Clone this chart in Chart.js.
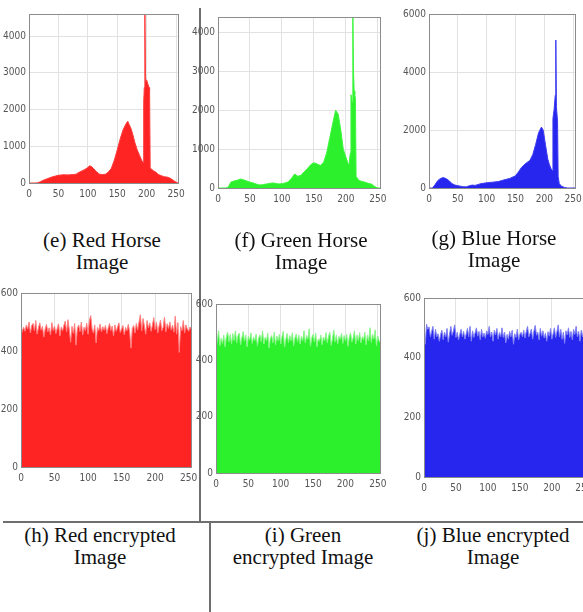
<!DOCTYPE html>
<html lang="en">

<head>
  <meta charset="UTF-8">
  <title>Horse histograms</title>
  <style>
    body {
      margin: 0;
      background: #fff;
      width: 583px;
      height: 612px;
      overflow: hidden;
      position: relative;
    }

    .plot {
      position: absolute;
    }

    .cap {
      position: absolute;
      width: 200px;
      text-align: center;
      font-family: "Liberation Serif", "Times New Roman", serif;
      font-size: 21px;
      line-height: 22px;
      color: #111;
    }

    .rule {
      position: absolute;
      background: #6e6e6e;
    }
  </style>
  <script src="https://cdn.jsdelivr.net/npm/chart.js"></script>
</head>

<body>
  <div class="rule" style="left:199px; top:8px; width:2px; height:514px;"></div>
  <div class="rule" style="left:3px; top:521px; width:580px; height:2px;"></div>
  <div class="rule" style="left:209px; top:521px; width:2px; height:91px;"></div>

  <div class="plot" style="left:0px; top:7px; width:189px; height:197px;"><canvas id="redHorse"></canvas></div>
  <div class="plot" style="left:190px; top:10px; width:201px; height:199px;"><canvas id="greenHorse"></canvas></div>
  <div class="plot" style="left:401px; top:7px; width:185px; height:202px;"><canvas id="blueHorse"></canvas></div>
  <div class="plot" style="left:-1px; top:286px; width:203px; height:202px;"><canvas id="redEnc"></canvas></div>
  <div class="plot" style="left:194px; top:297px; width:197px; height:197px;"><canvas id="greenEnc"></canvas></div>
  <div class="plot" style="left:402px; top:291px; width:195px; height:207px;"><canvas id="blueEnc"></canvas></div>

  <div class="cap" style="left:2px; top:229px;">(e) Red Horse<br>Image</div>
  <div class="cap" style="left:201px; top:229px;">(f) Green Horse<br>Image</div>
  <div class="cap" style="left:394px; top:227px;">(g) Blue Horse<br>Image</div>
  <div class="cap" style="left:0px; top:524px;">(h) Red encrypted<br>Image</div>
  <div class="cap" style="left:203px; top:524px;">(i) Green<br>encrypted Image</div>
  <div class="cap" style="left:393px; top:524px;">(j) Blue encrypted<br>Image</div>

  <script>
    // gray levels and pixel counts
    const redLevels = [0, 10, 15, 20, 25, 30, 35, 40, 45, 50, 55, 60, 65, 70, 75, 80, 85, 90, 95, 100, 103, 106, 110, 115, 120, 125, 130, 135, 140, 145, 150, 155, 160, 163, 166, 168, 170, 173, 176, 180, 184, 188, 192, 194, 195, 196, 197, 198, 199, 200, 202, 204, 205, 206, 208, 212, 216, 220, 225, 230, 235, 240, 244, 248, 252, 255];
    const redCounts = [0, 0, 5, 40, 80, 110, 140, 170, 190, 210, 220, 225, 220, 225, 230, 240, 290, 330, 370, 420, 470, 450, 390, 300, 240, 230, 240, 300, 400, 620, 900, 1200, 1450, 1550, 1640, 1680, 1600, 1500, 1350, 1100, 900, 750, 600, 560, 2200, 2600, 4600, 2900, 2750, 2800, 2700, 2600, 2500, 400, 380, 330, 290, 230, 200, 170, 160, 130, 90, 40, 10, 0];

    const greenLevels = [0, 12, 16, 20, 25, 30, 35, 40, 45, 50, 55, 60, 65, 70, 75, 80, 85, 90, 95, 100, 105, 110, 115, 120, 125, 130, 135, 140, 145, 150, 155, 160, 165, 170, 175, 180, 184, 188, 192, 196, 200, 203, 205, 207, 208, 209, 210, 211, 212, 213, 214, 215, 216, 220, 225, 230, 235, 240, 245, 250, 255];
    const greenCounts = [0, 0, 20, 150, 180, 200, 230, 210, 180, 150, 130, 100, 80, 85, 100, 115, 130, 120, 105, 110, 130, 160, 250, 360, 300, 330, 420, 500, 600, 650, 620, 580, 650, 900, 1300, 1700, 2000, 1900, 1500, 1000, 800, 650, 600, 900, 2400, 2300, 2200, 4400, 3000, 2500, 2400, 2300, 300, 200, 170, 150, 120, 100, 40, 0, 0];

    const blueLevels = [0, 6, 10, 15, 20, 25, 30, 35, 40, 45, 50, 55, 60, 65, 70, 75, 80, 90, 100, 110, 120, 130, 140, 150, 155, 160, 165, 170, 175, 180, 185, 190, 195, 198, 202, 206, 209, 212, 214, 215, 217, 219, 220, 221, 223, 224, 226, 230, 235, 240, 255];
    const blueCounts = [0, 0, 100, 250, 330, 360, 320, 250, 150, 100, 80, 60, 40, 40, 80, 100, 90, 150, 180, 200, 220, 280, 330, 420, 550, 700, 800, 880, 950, 1150, 1500, 1900, 2100, 2000, 1500, 1000, 800, 650, 600, 2400, 2700, 3200, 5100, 2800, 2300, 400, 150, 60, 20, 0, 0];

    // encrypted histograms, one count every second gray level (0, 2, ... 254)
    const redEncCounts = [
      455, 470, 482, 468, 490, 476, 500, 462, 488, 495, 470, 505, 458, 480, 497, 472,
      485, 448, 476, 492, 466, 480, 455, 498, 471, 486, 460, 478, 494, 452, 483, 470,
      489, 503, 466, 508, 474, 430, 485, 461, 495, 420, 478, 490, 467, 500, 455, 482,
      470, 496, 458, 505, 522, 476, 462, 490, 428, 481, 470, 493, 466, 484, 472, 488,
      460, 479, 495, 471, 486, 452, 490, 468, 483, 497, 464, 475, 488, 456, 481, 470,
      492, 466, 410, 478, 488, 462, 495, 473, 500, 525, 470, 512, 486, 458, 505, 480,
      497, 468, 490, 515, 474, 499, 462, 488, 506, 470, 482, 517, 466, 494, 478, 500,
      472, 489, 465, 520, 458, 498, 395, 484, 470, 505, 462, 490, 476, 468, 483, 475
    ];
    const greenEncCounts = [
      445, 470, 505, 452, 478, 460, 490, 448, 484, 500, 466, 492, 458, 495, 470, 505,
      462, 488, 497, 455, 480, 502, 468, 490, 448, 485, 472, 498, 460, 483, 470, 493,
      452, 480, 490, 466, 505, 458, 482, 470, 496, 444, 478, 488, 462, 500, 455, 486,
      470, 492, 458, 485, 503, 447, 476, 495, 463, 488, 470, 498, 452, 480, 493, 466,
      490, 458, 485, 470, 505, 462, 488, 476, 512, 450, 480, 492, 466, 497, 448, 476,
      468, 490, 455, 483, 470, 498, 462, 486, 500, 453, 478, 508, 466, 490, 458, 485,
      475, 496, 460, 488, 470, 492, 450, 483, 497, 465, 480, 505, 458, 490, 470, 498,
      462, 484, 473, 500, 455, 489, 470, 516, 464, 492, 476, 508, 452, 486, 470, 462
    ];
    const blueEncCounts = [
      480, 445, 512, 495, 503, 470, 488, 505, 462, 495, 470, 480, 455, 478, 492, 460,
      485, 470, 498, 452, 480, 505, 475, 490, 510, 468, 485, 460, 478, 495, 470, 488,
      462, 480, 498, 470, 505, 455, 490, 468, 484, 500, 472, 488, 460, 495, 470, 482,
      465, 490, 478, 505, 470, 486, 455, 492, 476, 498, 462, 484, 470, 500, 468, 486,
      450, 478, 462, 488, 470, 492, 445, 480, 468, 495, 460, 478, 485, 470, 492, 466,
      488, 505, 470, 482, 496, 462, 490, 508, 475, 485, 460, 498, 472, 490, 466, 482,
      455, 487, 472, 498, 462, 480, 500, 468, 488, 510, 470, 495, 462, 485, 448, 490,
      476, 500, 468, 488, 460, 495, 478, 505, 470, 488, 455, 492, 470, 500, 462, 480
    ];
    const encLevels = redEncCounts.map((_, i) => i * 2);

    // tick labels
    const levelTicks = [0, 50, 100, 150, 200, 250];
    const horseTicks = [0, 1000, 2000, 3000, 4000];
    const blueHorseTicks = [0, 2000, 4000, 6000];
    const encTicks = [0, 200, 400, 600];

    const tickFont = { family: "'Liberation Sans Narrow', 'DejaVu Sans Condensed', sans-serif", size: 10 };

    // draws the gray box round the plot area, like matlab axes
    const boxPlugin = {
      id: 'box',
      afterDatasetsDraw(chart) {
        const a = chart.chartArea;
        const ctx = chart.ctx;
        ctx.save();
        ctx.strokeStyle = '#8c8c8c';
        ctx.lineWidth = 1;
        ctx.strokeRect(a.left + 0.5, a.top + 0.5, a.right - a.left - 1, a.bottom - a.top);
        ctx.restore();
      }
    };

    // fixed axis size, and no extra room for labels that stick out
    function fixAxis(s, w, h) {
      if (w !== null) s.width = w;
      if (h !== null) s.height = h;
      s.paddingLeft = 0;
      s.paddingRight = 0;
      s.paddingTop = 0;
      s.paddingBottom = 0;
    }

    function histChart(id, levels, counts, o) {
      const points = levels.map((x, i) => ({ x, y: counts[i] }));
      return new Chart(document.getElementById(id), {
        type: 'line',
        data: {
          datasets: [{
            data: points,
            fill: 'origin',
            backgroundColor: o.color,
            borderColor: o.edge,
            borderWidth: 1,
            pointRadius: 0,
            tension: 0
          }]
        },
        options: {
          responsive: true,
          maintainAspectRatio: false,
          animation: false,
          layout: { padding: { top: 7, right: 10, left: 0, bottom: 0 }, autoPadding: false },
          plugins: { legend: { display: false }, tooltip: { enabled: false } },
          scales: {
            x: {
              type: 'linear', min: 0, max: 255,
              grid: { color: '#e2e2e2', drawTicks: false },
              border: { display: false },
              ticks: { autoSkip: false, maxRotation: 0, padding: 5, font: tickFont, color: '#555', callback: v => String(v) },
              afterBuildTicks: s => { s.ticks = levelTicks.map(v => ({ value: v })); },
              afterFit: s => fixAxis(s, null, o.xH)
            },
            y: {
              min: 0, max: o.yMax,
              grid: { color: '#e2e2e2', drawTicks: false },
              border: { display: false },
              ticks: { autoSkip: false, padding: 3, font: tickFont, color: '#555', callback: v => String(v) },
              afterBuildTicks: s => { s.ticks = o.yTicks.map(v => ({ value: v })); },
              afterFit: s => fixAxis(s, o.yW, null)
            }
          }
        },
        plugins: [boxPlugin]
      });
    }

    histChart('redHorse', redLevels, redCounts, { color: '#ff2424', edge: '#ff3a3a', yMax: 4600, yTicks: horseTicks, yW: 29, xH: 21 });
    histChart('greenHorse', greenLevels, greenCounts, { color: '#2cf02c', edge: '#3cf53c', yMax: 4400, yTicks: horseTicks, yW: 28, xH: 21 });
    histChart('blueHorse', blueLevels, blueCounts, { color: '#2626ee', edge: '#3a3af2', yMax: 6000, yTicks: blueHorseTicks, yW: 28, xH: 21 });
    histChart('redEnc', encLevels, redEncCounts, { color: '#ff2424', edge: '#ff8080', yMax: 600, yTicks: encTicks, yW: 22, xH: 21 });
    histChart('greenEnc', encLevels, greenEncCounts, { color: '#2cf02c', edge: '#8af58a', yMax: 600, yTicks: encTicks, yW: 22, xH: 21 });
    histChart('blueEnc', encLevels, blueEncCounts, { color: '#2626ee', edge: '#8080f5', yMax: 600, yTicks: encTicks, yW: 22, xH: 21 });
  </script>
</body>

</html>
